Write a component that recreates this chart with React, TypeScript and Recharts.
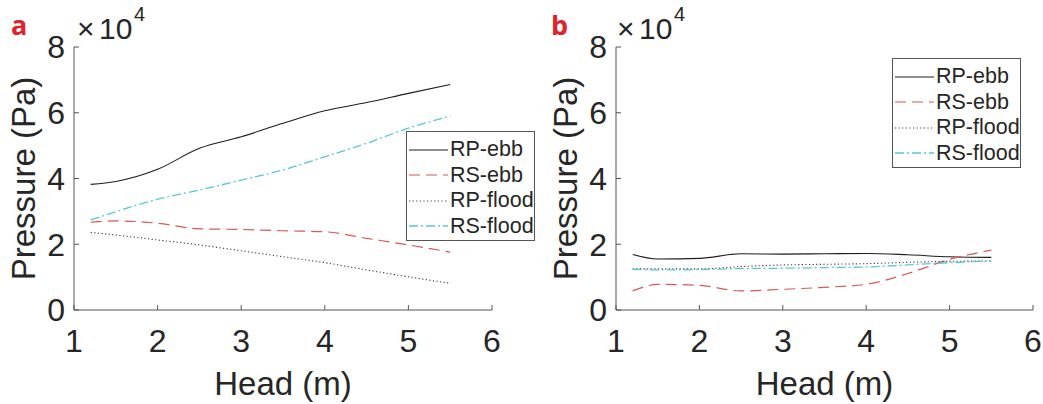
import React from 'react';
import { LineChart, Line, XAxis, YAxis, Legend } from 'recharts';

// Head (m)
const heads = [1.2, 1.5, 2, 2.5, 3, 3.5, 4, 4.5, 5, 5.5];
const xTicks = [1, 2, 3, 4, 5, 6];
const yTicks = [0, 20000, 40000, 60000, 80000];

// Panel a (Pa)
const aRPebb = [38200, 39100, 42800, 49200, 52700, 56800, 60600, 63100, 65900, 68600];
const aRSebb = [26700, 27100, 26400, 24700, 24500, 24100, 23800, 21800, 19800, 17600];
const aRPflood = [23600, 22800, 21300, 19800, 18000, 16200, 14400, 12200, 10100, 8100];
const aRSflood = [27400, 29900, 33700, 36500, 39500, 42600, 46600, 50700, 55300, 59000];

// Panel b (Pa)
const bRPebb = [16900, 15500, 15700, 17100, 17000, 17100, 17200, 16800, 16200, 16000];
const bRSebb = [5800, 7800, 7500, 5800, 6300, 6900, 7800, 11100, 15400, 18200];
const bRPflood = [12500, 12500, 12500, 13200, 13700, 13900, 14100, 14500, 14800, 14900];
const bRSflood = [12400, 12200, 12300, 12600, 12700, 12900, 13100, 13700, 14400, 14900];

const seriesNames = ['RP-ebb', 'RS-ebb', 'RP-flood', 'RS-flood'];
const seriesKeys = ['rpEbb', 'rsEbb', 'rpFlood', 'rsFlood'];
const seriesColors = ['#1e1e1e', '#d65858', '#3a3a3a', '#55c8d6'];
const seriesDash = ['', '11 6', '1.2 2.4', '9 3 2 3'];
const seriesWidth = [1.1, 1.2, 1.1, 1.3];

const buildRows = (s: number[][]) =>
  heads.map((h, i) => ({ h, rpEbb: s[0][i], rsEbb: s[1][i], rpFlood: s[2][i], rsFlood: s[3][i] }));

const dataA = buildRows([aRPebb, aRSebb, aRPflood, aRSflood]);
const dataB = buildRows([bRPebb, bRSebb, bRPflood, bRSflood]);

const FONT = '"Liberation Sans", Arial, sans-serif';
const AXIS = '#555555';
const TEXT = '#262626';

const LegendBox = () => (
  <div
    style={{
      boxSizing: 'border-box',
      width: 129,
      height: 110,
      border: `1px solid ${AXIS}`,
      background: '#fff',
      paddingTop: 5,
      fontFamily: FONT,
    }}
  >
    {seriesNames.map((n, i) => (
      <div key={n} style={{ display: 'flex', alignItems: 'center', height: 25.5 }}>
        <svg width={40} height={6} style={{ marginLeft: 2, marginRight: 1 }}>
          <line
            x1={0}
            y1={3}
            x2={39}
            y2={3}
            stroke={seriesColors[i]}
            strokeWidth={seriesWidth[i]}
            strokeDasharray={seriesDash[i] || undefined}
          />
        </svg>
        <span style={{ fontSize: 21.5, color: TEXT, lineHeight: '25px' }}>{n}</span>
      </div>
    ))}
  </div>
);

type PanelProps = {
  data: any[];
  width: number;
  marginRight: number;
  legendLeft: number;
  legendTop: number;
};

const Panel = ({ data, width, marginRight, legendLeft, legendTop }: PanelProps) => (
  <LineChart
    width={width}
    height={404}
    data={data}
    margin={{ top: 47, right: marginRight, bottom: 0, left: 0 }}
  >
    <XAxis
      dataKey="h"
      type="number"
      domain={[1, 6]}
      ticks={xTicks}
      interval={0}
      allowDataOverflow
      height={94}
      tickSize={-5}
      tickMargin={24}
      stroke={AXIS}
      tick={{ fill: TEXT, fontSize: 32, fontFamily: FONT }}
      label={{ value: 'Head (m)', position: 'center', dy: 26, fontSize: 33, fill: TEXT, fontFamily: FONT }}
    />
    <XAxis
      xAxisId="top"
      dataKey="h"
      orientation="top"
      type="number"
      domain={[1, 6]}
      ticks={xTicks}
      interval={0}
      allowDataOverflow
      height={0}
      tickSize={-5}
      stroke={AXIS}
      tickFormatter={() => ''}
    />
    <YAxis
      type="number"
      domain={[0, 80000]}
      ticks={yTicks}
      interval={0}
      allowDataOverflow
      width={74}
      tickSize={-5}
      tickMargin={14}
      stroke={AXIS}
      tickFormatter={(v: number) => String(v / 10000)}
      tick={{ fill: TEXT, fontSize: 32, fontFamily: FONT }}
      label={{ value: 'Pressure (Pa)', angle: -90, position: 'center', dx: -14, fontSize: 33, fill: TEXT, fontFamily: FONT }}
    />
    <YAxis
      yAxisId="right"
      orientation="right"
      type="number"
      domain={[0, 80000]}
      ticks={yTicks}
      interval={0}
      allowDataOverflow
      width={0}
      tickSize={-5}
      stroke={AXIS}
      tickFormatter={() => ''}
    />
    <Legend
      layout="vertical"
      align="center"
      verticalAlign="middle"
      content={() => <LegendBox />}
      wrapperStyle={{ left: legendLeft, top: legendTop, width: 129, height: 110, bottom: 'auto', right: 'auto' }}
    />
    {seriesKeys.map((k, i) => (
      <Line
        key={k}
        dataKey={k}
        name={seriesNames[i]}
        type="monotone"
        stroke={seriesColors[i]}
        strokeWidth={seriesWidth[i]}
        strokeDasharray={seriesDash[i] || undefined}
        dot={false}
        activeDot={false}
        isAnimationActive={false}
      />
    ))}
  </LineChart>
);

export default function App() {
  return (
    <div style={{ position: 'absolute', left: 0, top: 0, width: 1043, height: 404, background: '#fff', overflow: 'hidden' }}>
      <div style={{ position: 'absolute', left: 0, top: 0 }}>
        <Panel data={dataA} width={521} marginRight={29} legendLeft={406} legendTop={131} />
      </div>
      <div style={{ position: 'absolute', left: 542, top: 0 }}>
        <Panel data={dataB} width={501} marginRight={10} legendLeft={350} legendTop={58} />
      </div>
      <svg
        width={1043}
        height={404}
        style={{ position: 'absolute', left: 0, top: 0, pointerEvents: 'none' }}
      >
        <text x={11} y={35} fontFamily='"Open Sans", sans-serif' fontWeight={700} fontSize={27} fill="#e3212a">a</text>
        <text x={551} y={35} fontFamily='"Open Sans", sans-serif' fontWeight={700} fontSize={27} fill="#e3212a">b</text>
        <text x={77} y={39} fontFamily={FONT} fontSize={30} fill={TEXT}>×</text>
        <text x={99} y={39} fontFamily={FONT} fontSize={30} fill={TEXT}>10</text>
        <text x={134} y={21} fontFamily={FONT} fontSize={20} fill={TEXT}>4</text>
        <text x={617} y={39} fontFamily={FONT} fontSize={30} fill={TEXT}>×</text>
        <text x={639} y={39} fontFamily={FONT} fontSize={30} fill={TEXT}>10</text>
        <text x={674} y={21} fontFamily={FONT} fontSize={20} fill={TEXT}>4</text>
      </svg>
    </div>
  );
}
